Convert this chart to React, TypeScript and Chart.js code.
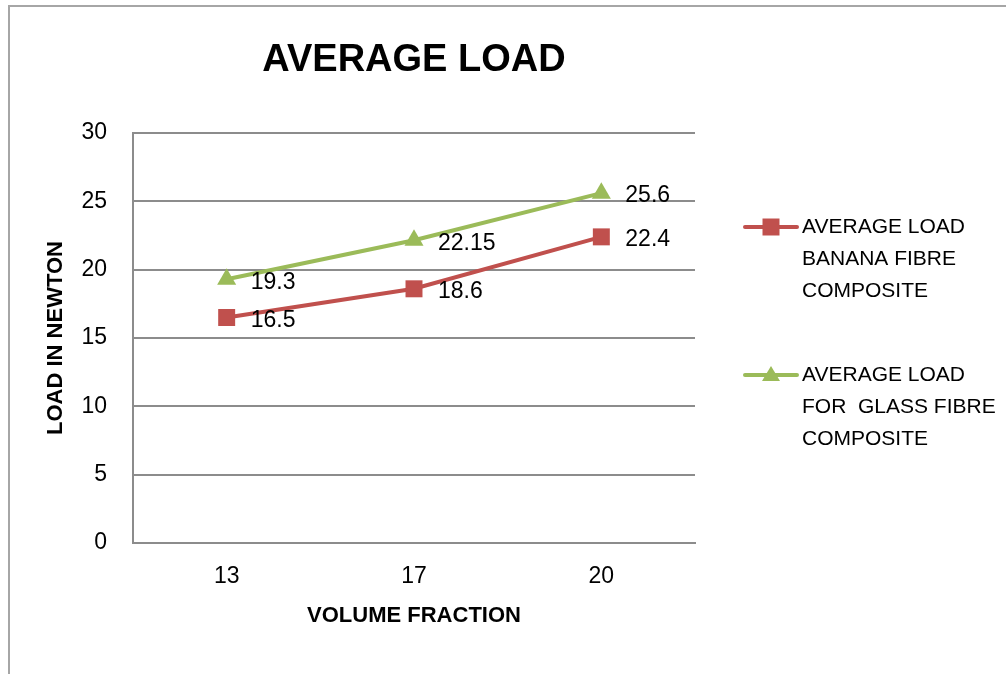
import React, { useEffect, useRef } from "react";
import { Chart, registerables } from "chart.js";

Chart.register(...registerables);

const categories: string[] = ["13", "17", "20"];
const bananaValues: number[] = [16.5, 18.6, 22.4];
const glassValues: number[] = [19.3, 22.15, 25.6];
const bananaLabel: string[] = ["AVERAGE LOAD", "BANANA FIBRE", "COMPOSITE"];
const glassLabel: string[] = ["AVERAGE LOAD", "FOR  GLASS FIBRE", "COMPOSITE"];
const chartTitle = "AVERAGE LOAD";
const xTitle = "VOLUME FRACTION";
const yTitle = "LOAD IN NEWTON";

const FONT = "'Liberation Sans Narrow', 'Arial Narrow', 'Liberation Sans', sans-serif";
const RED = "#C0504D";
const GREEN = "#9BBB59";
const GRID = "#8c8c8c";

const frame = {
  id: "frame",
  beforeDraw(chart: any) {
    const ctx = chart.ctx;
    ctx.save();
    ctx.strokeStyle = "#a6a6a6";
    ctx.lineWidth = 2;
    ctx.beginPath();
    ctx.moveTo(9, chart.height);
    ctx.lineTo(9, 6);
    ctx.lineTo(chart.width, 6);
    ctx.stroke();
    ctx.restore();
  },
};

const valueLabels = {
  id: "valueLabels",
  afterDatasetsDraw(chart: any) {
    const ctx = chart.ctx;
    ctx.save();
    ctx.font = `23px ${FONT}`;
    ctx.fillStyle = "#000";
    ctx.textAlign = "left";
    ctx.textBaseline = "middle";
    chart.data.datasets.forEach((ds: any, i: number) => {
      const meta = chart.getDatasetMeta(i);
      meta.data.forEach((pt: any, j: number) => {
        ctx.fillText(String(ds.data[j]), pt.x + 24, pt.y + 3);
      });
    });
    ctx.restore();
  },
};

const customLegend = {
  id: "customLegend",
  afterDraw(chart: any) {
    const ctx = chart.ctx;
    const area = chart.chartArea;
    const x0 = area.right + 50;
    const items = [
      { lines: bananaLabel, color: RED, style: "rect", y: area.top + 94 },
      { lines: glassLabel, color: GREEN, style: "triangle", y: area.top + 242 },
    ];
    ctx.save();
    items.forEach((it) => {
      ctx.strokeStyle = it.color;
      ctx.lineWidth = 4;
      ctx.lineCap = "round";
      ctx.beginPath();
      ctx.moveTo(x0, it.y);
      ctx.lineTo(x0 + 52, it.y);
      ctx.stroke();
      ctx.fillStyle = it.color;
      ctx.beginPath();
      if (it.style === "rect") {
        ctx.rect(x0 + 26 - 8.5, it.y - 8.5, 17, 17);
      } else {
        ctx.moveTo(x0 + 26, it.y - 9);
        ctx.lineTo(x0 + 26 + 9, it.y + 6);
        ctx.lineTo(x0 + 26 - 9, it.y + 6);
        ctx.closePath();
      }
      ctx.fill();
      ctx.fillStyle = "#000";
      ctx.font = `21px ${FONT}`;
      ctx.textAlign = "left";
      ctx.textBaseline = "middle";
      it.lines.forEach((ln, k) => {
        ctx.fillText(ln, x0 + 57, it.y + k * 32);
      });
    });
    ctx.restore();
  },
};

export default function App() {
  const ref = useRef<HTMLCanvasElement | null>(null);
  useEffect(() => {
    if (!ref.current) return;
    const chart = new Chart(ref.current, {
      type: "line",
      data: {
        labels: categories,
        datasets: [
          {
            label: bananaLabel.join(" "),
            data: bananaValues,
            borderColor: RED,
            backgroundColor: RED,
            borderWidth: 4,
            pointStyle: "rect",
            pointRadius: 12,
            pointBorderWidth: 0,
            tension: 0,
          },
          {
            label: glassLabel.join(" "),
            data: glassValues,
            borderColor: GREEN,
            backgroundColor: GREEN,
            borderWidth: 4,
            pointStyle: "triangle",
            pointRadius: 11,
            pointBorderWidth: 0,
            tension: 0,
          },
        ],
      },
      options: {
        animation: false,
        responsive: false,
        maintainAspectRatio: false,
        layout: { padding: { left: 20, right: 311, top: 0, bottom: 0 } },
        plugins: {
          legend: { display: false },
          tooltip: { enabled: false },
          title: {
            display: true,
            fullSize: false,
            text: chartTitle,
            color: "#000",
            font: { family: FONT, size: 38, weight: "bold" },
            padding: { top: 38, bottom: 49.4 },
          },
        },
        scales: {
          x: {
            offset: true,
            grid: { display: false, drawTicks: false },
            border: { display: true, color: GRID, width: 2 },
            ticks: {
              color: "#000",
              font: { family: FONT, size: 23 },
              padding: 20,
            },
            title: {
              display: true,
              text: xTitle,
              color: "#000",
              font: { family: FONT, size: 22, weight: "bold" },
              padding: { top: 0, bottom: 45 },
            },
            afterFit(scale: any) {
              scale.height = 131;
            },
          },
          y: {
            min: 0,
            max: 30,
            ticks: {
              stepSize: 5,
              color: "#000",
              font: { family: FONT, size: 23 },
              padding: 26,
            },
            grid: { color: GRID, lineWidth: 2, drawTicks: false },
            border: { display: true, color: GRID, width: 2 },
            title: {
              display: true,
              text: yTitle,
              color: "#000",
              font: { family: FONT, size: 22, weight: "bold" },
              padding: { top: 22.8, bottom: 0 },
            },
            afterFit(scale: any) {
              scale.width = 113;
            },
          },
        },
      },
      plugins: [frame, valueLabels, customLegend],
    });
    return () => chart.destroy();
  }, []);
  return (
    <div style={{ position: "absolute", left: 0, top: 0, width: 1006, height: 674, background: "#fff" }}>
      <canvas ref={ref} width={1006} height={674} style={{ display: "block" }} />
    </div>
  );
}
